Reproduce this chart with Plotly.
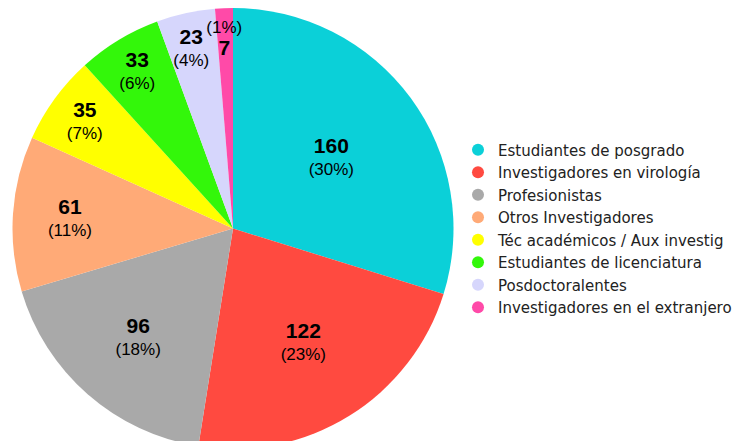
import plotly.graph_objects as go

categories = ["Estudiantes de posgrado", "Investigadores en virología", "Profesionistas",
              "Otros Investigadores", "Téc académicos / Aux investig",
              "Estudiantes de licenciatura", "Posdoctoralentes",
              "Investigadores en el extranjero"]
values = [160, 122, 96, 61, 35, 33, 23, 7]
colors = ["#0BD0D8", "#FF4A40", "#A9A9A9", "#FFAA77", "#FFFF00", "#33F70A", "#D6D6FC", "#FF4AA8"]

main_tpl = "<span style='font-size:21px'><b>%{value}</b></span><br>(%{percent:.0%})"
low_tpl = "\u00a0<br>" + main_tpl
small_tpl = "\u00a0<br>\u00a0<br>(%{percent:.0%})<br><span style='font-size:21px'><b>%{value}</b></span>"
templates = [main_tpl] * 6 + [low_tpl, small_tpl]

fig = go.Figure()
fig.add_trace(go.Pie(
    labels=categories, values=values, sort=False, direction="clockwise", rotation=0,
    marker=dict(colors=colors, line=dict(width=0)),
    texttemplate=templates,
    textposition="inside", insidetextorientation="horizontal",
    textfont=dict(family="Liberation Sans, Arial", size=17, color="#000"),
    domain=dict(x=[4.5/748, 445.5/748], y=[0.0, 1.0]),
    showlegend=False, hoverinfo="label+value+percent",
))
for name, c in zip(categories, colors):
    fig.add_trace(go.Scatter(x=[None], y=[None], mode="markers", name=name,
                             marker=dict(symbol="circle", size=15, color=c)))

fig.update_layout(
    width=748, height=441, margin=dict(l=0, r=0, t=0, b=0),
    paper_bgcolor="white", plot_bgcolor="white",
    uniformtext=dict(minsize=17, mode="show"),
    xaxis=dict(visible=False), yaxis=dict(visible=False),
    legend=dict(x=450/748, y=0.5, xanchor="left", yanchor="middle",
                font=dict(family="DejaVu Sans", size=15, color="#222"),
                tracegroupgap=0, itemsizing="constant", bgcolor="rgba(0,0,0,0)"),
)
fig.write_html("out.html")
